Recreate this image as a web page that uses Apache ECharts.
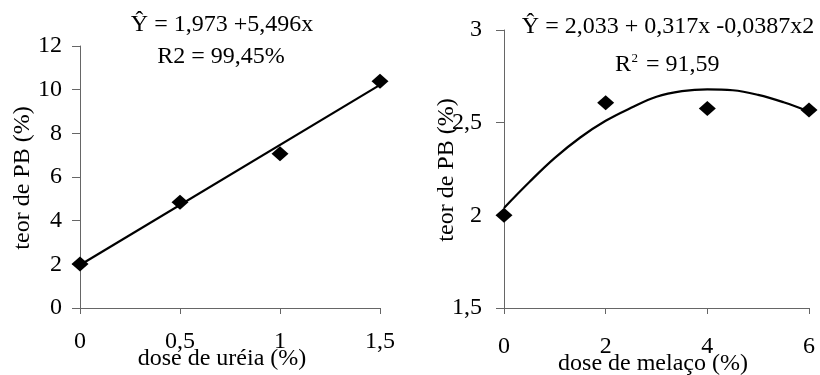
<!DOCTYPE html>
<html>
<head>
<meta charset="utf-8">
<script src="https://cdn.jsdelivr.net/npm/echarts@6/dist/echarts.min.js"></script>
<style>
html,body{margin:0;padding:0;background:#fff;}
#c{width:820px;height:375px;}
</style>
</head>
<body>
<div id="c"></div>
<script>
// Left panel: urea dose
var ureaDose = [0, 0.5, 1, 1.5];
var ureaPB = [2.01, 4.84, 7.07, 10.39];
var ureaFitX = [0, 1.5];
var ureaFitY = [1.97, 10.22];
var ureaXTicks = ['0', '0,5', '1', '1,5'];
var ureaYTicks = ['0', '2', '4', '6', '8', '10', '12'];

// Right panel: molasses dose
var melDose = [0, 2, 4, 6];
var melPB = [2.0, 2.607, 2.577, 2.568];
var melFitX = [0, 0.5, 1, 1.5, 2, 2.5, 3, 3.5, 4, 4.5, 5, 5.5, 6];
var melFitY = [2.04, 2.18, 2.31, 2.42, 2.51, 2.58, 2.64, 2.67, 2.68, 2.675, 2.65, 2.61, 2.56];
var melXTicks = ['0', '2', '4', '6'];
var melYTicks = ['1,5', '2', '2,5', '3'];

var FONT = "'Liberation Serif', 'Times New Roman', serif";
var AX = '#666';

function pairs(xs, ys) { return xs.map(function (x, i) { return [x, ys[i]]; }); }
function lookup(ticks, min, step) {
  return function (v) { var i = Math.round((v - min) / step); return ticks[i] !== undefined ? ticks[i] : ''; };
}

var chart = echarts.init(document.getElementById('c'), null, { renderer: 'canvas' });

function xAxisCfg(gi, min, max, step, ticks, margin) {
  return {
    gridIndex: gi, type: 'value', min: min, max: max, interval: step,
    splitLine: { show: false },
    axisLine: { show: true, onZero: false, lineStyle: { color: AX, width: 1 } },
    axisTick: { show: true, inside: false, length: 6, lineStyle: { color: AX } },
    axisLabel: { margin: margin, color: '#000', fontFamily: FONT, fontSize: 24, formatter: lookup(ticks, min, step) }
  };
}
function yAxisCfg(gi, min, max, step, ticks, margin) {
  return {
    gridIndex: gi, type: 'value', min: min, max: max, interval: step,
    splitLine: { show: false },
    axisLine: { show: true, onZero: false, lineStyle: { color: AX, width: 1 } },
    axisTick: { show: true, inside: false, length: 8, lineStyle: { color: AX } },
    axisLabel: { margin: margin, color: '#000', fontFamily: FONT, fontSize: 24, formatter: lookup(ticks, min, step) }
  };
}

function txt(x, y, s, opts) {
  opts = opts || {};
  return {
    type: 'text', x: x, y: y, rotation: opts.rotation || 0, silent: true,
    style: {
      text: s, font: (opts.size || 24) + 'px ' + FONT, fill: '#000',
      align: opts.align || 'center', verticalAlign: opts.vAlign || 'middle'
    }
  };
}

var option = {
  animation: false,
  backgroundColor: '#fff',
  grid: [
    { left: 80, right: 440, top: 46, bottom: 67 },
    { left: 504, right: 11, top: 30, bottom: 67 }
  ],
  xAxis: [
    xAxisCfg(0, 0, 1.5, 0.5, ureaXTicks, 22),
    xAxisCfg(1, 0, 6, 2, melXTicks, 27)
  ],
  yAxis: [
    yAxisCfg(0, 0, 12, 2, ureaYTicks, 18),
    yAxisCfg(1, 1.5, 3, 0.5, melYTicks, 22)
  ],
  series: [
    { type: 'line', xAxisIndex: 0, yAxisIndex: 0, data: pairs(ureaFitX, ureaFitY),
      showSymbol: false, symbol: 'none', lineStyle: { color: '#000', width: 2.2 }, silent: true, z: 2 },
    { type: 'scatter', xAxisIndex: 0, yAxisIndex: 0, data: pairs(ureaDose, ureaPB), clip: false,
      symbol: 'diamond', symbolSize: [17, 15], itemStyle: { color: '#000', opacity: 1 }, z: 3 },
    { type: 'line', xAxisIndex: 1, yAxisIndex: 1, data: pairs(melFitX, melFitY), smooth: 0.4,
      showSymbol: false, symbol: 'none', lineStyle: { color: '#000', width: 2.2 }, silent: true, z: 2 },
    { type: 'scatter', xAxisIndex: 1, yAxisIndex: 1, data: pairs(melDose, melPB), clip: false,
      symbol: 'diamond', symbolSize: [17, 15], itemStyle: { color: '#000', opacity: 1 }, z: 3 }
  ],
  graphic: [
    txt(222, 25, 'Ŷ = 1,973 +5,496x'),
    txt(221, 57, 'R2 = 99,45%'),
    txt(222, 359, 'dose de uréia (%)'),
    txt(23, 178, 'teor de PB (%)', { rotation: Math.PI / 2 }),
    txt(668, 27, 'Ŷ = 2,033 + 0,317x -0,0387x2'),
    txt(615, 65, 'R', { align: 'left' }),
    txt(631.5, 59, '2', { align: 'left', size: 13 }),
    txt(640, 65, ' = 91,59', { align: 'left' }),
    txt(653, 364, 'dose de melaço (%)'),
    txt(447, 170, 'teor de PB (%)', { rotation: Math.PI / 2 })
  ]
};
chart.setOption(option);
</script>
</body>
</html>
